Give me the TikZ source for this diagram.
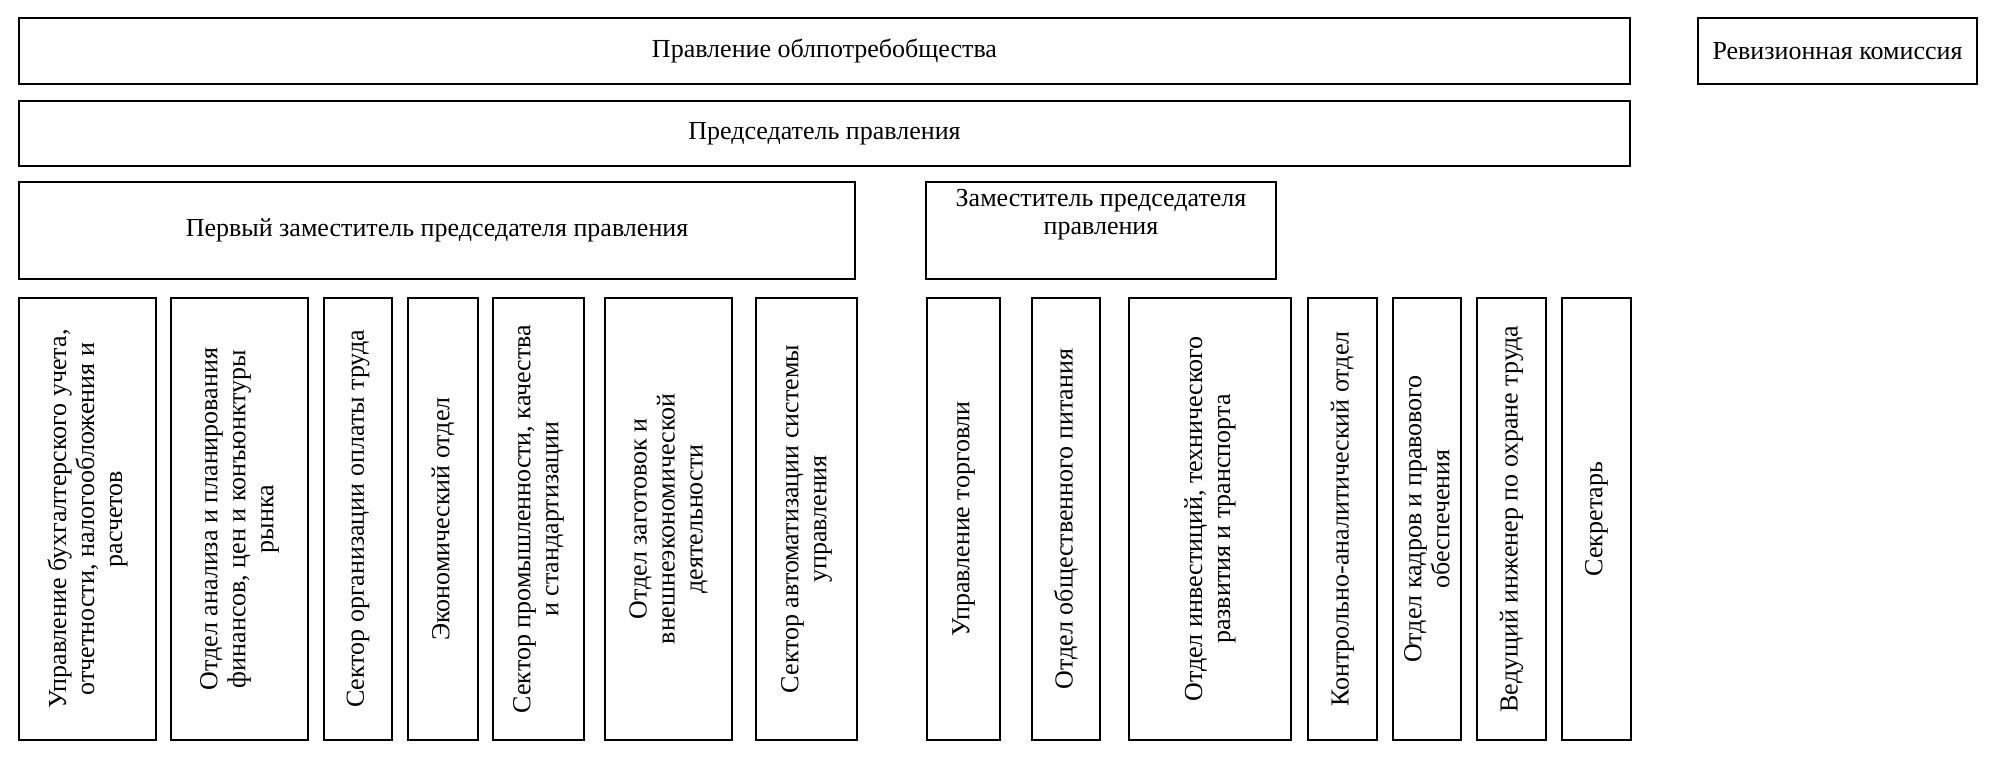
\documentclass[tikz,border=0pt]{standalone}
\usepackage{fontspec}
\setmainfont{Liberation Serif}
\begin{document}
\begin{tikzpicture}[x=1pt,y=-1pt,
  bx/.style={draw,line width=2pt,align=center,inner sep=0pt,font=\fontsize{26}{28}\selectfont},
  vb/.style={bx,rotate=90}]
\useasboundingbox (0,0) rectangle (2000,756);
\newcommand\hb[5]{\node[bx,minimum width={#3-#1},minimum height={#4-#2}] (#5) at ({(#1+#3)/2},{(#2+#4)/2})}
\newcommand\vbx[5]{\node[vb,minimum width={#4-#2},minimum height={#3-#1}] (#5) at ({(#1+#3)/2},{(#2+#4)/2})}
\hb{19}{18}{1630}{84}{pr} {Правление облпотребобщества};
\hb{1698}{18}{1977}{84}{rk} {Ревизионная комиссия};
\hb{19}{101}{1630}{166}{ch} {Председатель правления};
\hb{19}{182}{855}{279}{fz} {Первый заместитель председателя правления};
\hb{926}{182}{1276}{279}{zz} {Заместитель председателя\\правления\\[10pt]};
\vbx{19}{298}{156}{740}{a1} {Управление бухгалтерского учета,\\отчетности, налогообложения и\\расчетов};
\vbx{171}{298}{308}{740}{a2} {Отдел анализа и планирования\\финансов, цен и конъюнктуры\\рынка};
\vbx{324}{298}{392}{740}{a3} {Сектор организации оплаты труда};
\vbx{408}{298}{478}{740}{a4} {Экономический отдел};
\vbx{493}{298}{584}{740}{a5} {Сектор промышленности, качества\\и стандартизации};
\vbx{605}{298}{732}{740}{a6} {Отдел заготовок и\\внешнеэкономической\\деятельности};
\vbx{756}{298}{857}{740}{a7} {Сектор автоматизации системы\\управления};
\vbx{927}{298}{1000}{740}{b1} {Управление торговли};
\vbx{1032}{298}{1100}{740}{b2} {Отдел общественного питания};
\vbx{1129}{298}{1291}{740}{b3} {Отдел инвестиций, технического\\развития и транспорта};
\vbx{1308}{298}{1377}{740}{b4} {Контрольно-аналитический отдел};
\vbx{1393}{298}{1461}{740}{b5} {Отдел кадров и правового\\обеспечения};
\vbx{1477}{298}{1546}{740}{b6} {Ведущий инженер по охране труда};
\vbx{1562}{298}{1631}{740}{b7} {Секретарь};
\end{tikzpicture}
\end{document}
